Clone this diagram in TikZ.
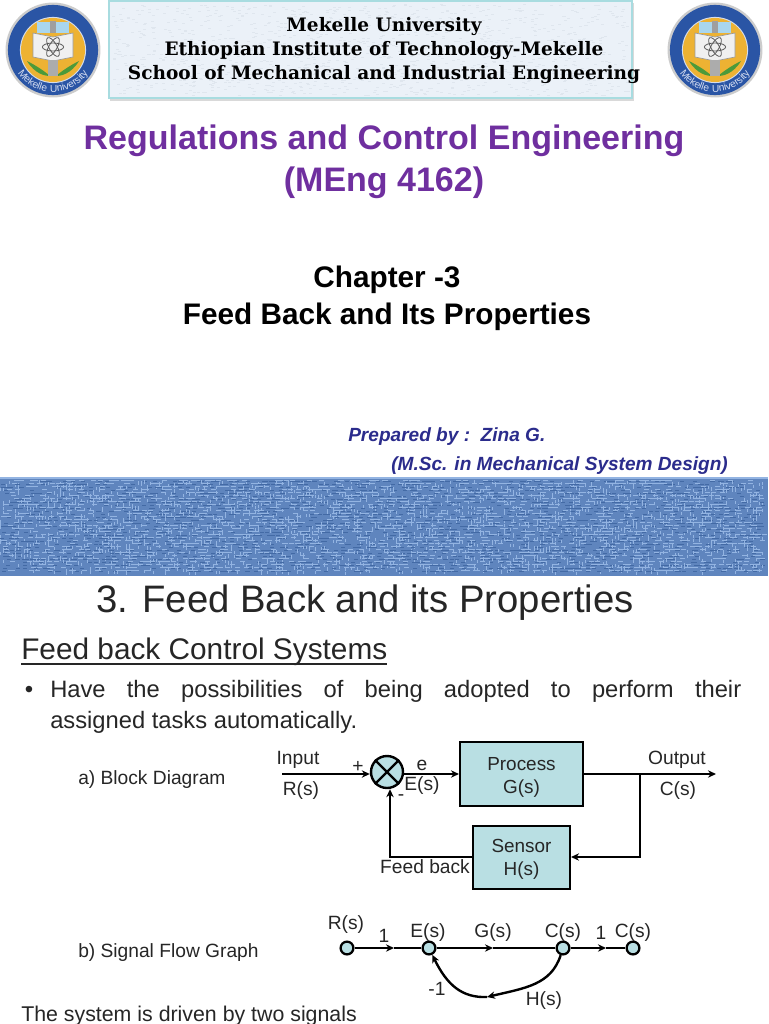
\documentclass[tikz,border=0pt]{standalone}
\usepackage{fontspec}
\setmainfont{Liberation Sans}
\newfontfamily\slabfont{DejaVu Serif}
\newfontfamily\logofont[LetterSpace=9]{Liberation Sans}
\usetikzlibrary{arrows.meta,decorations.text}
\definecolor{boxfill}{HTML}{B9DFE3}
\definecolor{inktext}{HTML}{262626}
\definecolor{titlepurple}{HTML}{6F2F9F}
\definecolor{prepblue}{HTML}{2B2C8C}
\definecolor{bandblue}{HTML}{5F85BE}
\definecolor{bandlight}{HTML}{93B4E2}
\definecolor{banddark}{HTML}{436AA5}
\definecolor{headerfill}{HTML}{EBF1F8}
\definecolor{headermark}{HTML}{DFE6EE}
\definecolor{headerline}{HTML}{A8DCE0}
\definecolor{logoblue}{HTML}{2A55A5}
\definecolor{logogold}{HTML}{EDB233}
\definecolor{logosky}{HTML}{A9D6EE}
\definecolor{logogreen}{HTML}{4C9A3A}
\definecolor{logotext}{HTML}{D5DDF0}
\tikzset{
  x=0.75pt,y=-0.75pt,
  lbl/.style={inner sep=0pt,text=inktext,font=\fontsize{14.4}{17}\selectfont,align=center},
  blockbox/.style={draw=black,line width=1.8pt,fill=boxfill,inner sep=0pt,align=center,text=inktext,font=\fontsize{14.2}{17.3}\selectfont},
  wire/.style={draw=black,line width=1.8pt},
  wirearrow/.style={wire,-{Stealth[length=6pt,width=5.5pt]}},
  thinarrow/.style={wirearrow,line width=1.3pt},
  flownode/.style={circle,draw=black,line width=1.7pt,fill=boxfill,minimum size=9.6pt,inner sep=0pt},
  headline/.style={inner sep=0pt,font=\slabfont\bfseries\fontsize{13.9}{18}\selectfont,text=black},
  purpletitle/.style={inner sep=0pt,font=\bfseries\fontsize{25.5}{30}\selectfont,text=titlepurple},
  chaptertitle/.style={inner sep=0pt,font=\bfseries\fontsize{22.3}{27}\selectfont,text=black},
  prep/.style={inner sep=0pt,font=\bfseries\itshape\fontsize{14.3}{17}\selectfont,text=prepblue},
}
\newcommand{\drawlogo}[2]{%
  \begin{scope}[shift={(#1,#2)}]
    \fill[gray!40] (0,0) circle [radius=35.6pt];
    \fill[logoblue] (0,0) circle [radius=33.8pt];
    \fill[white!80!logoblue] (0,0) circle [radius=24.8pt];
    \fill[logogold] (0,0) circle [radius=24pt];
    \fill[logosky] (-16,-28) rectangle (16,-17);
    \fill[gray!75] (-3,-29) rectangle (3,-17);
    \fill[white!88!gray,draw=gray!80,line width=.5pt] (-20,-17) -- (0,-13) -- (20,-17) -- (20,7) -- (0,11) -- (-20,7) -- cycle;
    \draw[gray!70!black,line width=.6pt] (0,-3) ellipse [x radius=8pt, y radius=3pt];
    \draw[gray!70!black,line width=.6pt,rotate around={60:(0,-3)}] (0,-3) ellipse [x radius=8pt, y radius=3pt];
    \draw[gray!70!black,line width=.6pt,rotate around={120:(0,-3)}] (0,-3) ellipse [x radius=8pt, y radius=3pt];
    \fill[logogreen] (-26,11) .. controls (-18,24) and (-8,26) .. (-3,26) .. controls (-10,20) and (-18,15) .. (-26,11) -- cycle;
    \fill[logogreen] (26,11) .. controls (18,24) and (8,26) .. (3,26) .. controls (10,20) and (18,15) .. (26,11) -- cycle;
    \fill[gray!65] (-5,10) rectangle (5,26);
    \path[postaction={decorate,decoration={text along path,text align=center,
      text={|\logofont\fontsize{7.6}{10}\selectfont\color{logotext}|Mekelle University}}}]
      (-40.6,10.9) arc [start angle=195, end angle=345, radius=31.5pt];
  \end{scope}}
\begin{document}
\begin{tikzpicture}
\useasboundingbox (0,0) rectangle (768,1024);
\fill[white] (0,0) rectangle (768,1024);
% header plate
\pgfmathsetseed{7}
\fill[gray!30] (110,3) rectangle (634,101);
\filldraw[fill=headerfill,draw=headerline,line width=1pt] (109,1) rectangle (632,98);
\foreach \i in {1,...,1200}{
  \pgfmathsetmacro{\xa}{112+rnd*516}
  \pgfmathsetmacro{\ya}{4+rnd*91}
  \fill[headermark] (\xa,\ya) rectangle ++(3,1);
}
\drawlogo{53}{50}
\drawlogo{715}{50}
\node[headline] (h1) at (384,27) {Mekelle University};
\node[headline] (h2) at (384,51) {Ethiopian Institute of Technology-Mekelle};
\node[headline] (h3) at (384,75) {School of Mechanical and Industrial Engineering};
% titles
\node[purpletitle] (t1) at (384,141) {Regulations and Control Engineering};
\node[purpletitle] (t2) at (384,183) {(MEng 4162)};
\node[chaptertitle] (c1) at (387,280) {Chapter -3};
\node[chaptertitle] (c2) at (387,317) {Feed Back and Its Properties};
\node[prep,anchor=west] (p1) at (348,437) {Prepared by :\ \ Zina G.};
\node[prep,anchor=west] (p2) at (391,466) {(M.Sc. in Mechanical System Design)};
% textured band
\fill[bandblue] (0,478) rectangle (768,576);
\fill[bandlight] (0,477) rectangle (768,479);
\foreach \i in {1,...,2200}{
  \pgfmathsetmacro{\xa}{rnd*762}
  \pgfmathsetmacro{\ya}{480+3*int(rnd*31)}
  \fill[bandlight] (\xa,\ya) rectangle ++(5,1.2);
  \pgfmathsetmacro{\xb}{3*int(rnd*255)}
  \pgfmathsetmacro{\yb}{480+rnd*92}
  \fill[bandlight] (\xb,\yb) rectangle ++(1.2,3);
  \pgfmathsetmacro{\xc}{rnd*762}
  \pgfmathsetmacro{\yc}{481+3*int(rnd*31)}
  \fill[banddark] (\xc,\yc) rectangle ++(4,1.2);
}
% slide heading
\node[inner sep=0pt,font=\fontsize{28.7}{34}\selectfont,text=inktext] (s1) at (365,603) {3. Feed Back and its Properties};
\node[inner sep=0pt,font=\fontsize{22.35}{27}\selectfont,text=inktext,anchor=west] (s2) at (21,652) {Feed back Control Systems};
\coordinate (ula) at (21,664);
\coordinate (ulb) at (387,664);
\draw[inktext,line width=.9pt] (ula) -- (ulb);
\node[inner sep=0pt,font=\fontsize{18}{22}\selectfont,text=inktext] (b0) at (29,692) {•};
\node[inner sep=0pt,font=\fontsize{17.8}{23.5}\selectfont,text=inktext,anchor=north west,text width=518.25pt,align=justify] (b1) at (50,680)
  {Have the possibilities of being adopted to perform their\linebreak assigned tasks automatically.};
\node[lbl,anchor=west] (la) at (78,780) {a) Block Diagram};
\node[lbl,anchor=west] (lb) at (78,953) {b) Signal Flow Graph};
\node[inner sep=0pt,font=\fontsize{16}{19}\selectfont,text=inktext,anchor=west] (last) at (21,1016) {The system is driven by two signals};
% block diagram
\node[circle,draw=black,line width=1.8pt,fill=boxfill,minimum size=24pt,inner sep=0pt] (sum) at (387,772) {};
\draw[black,line width=1.8pt] (sum.north west) -- (sum.south east) (sum.north east) -- (sum.south west);
\node[blockbox,minimum width=92pt,minimum height=48pt] (proc) at (521.5,774) {\rule{0pt}{15pt}Process\\G(s)};
\node[blockbox,minimum width=72.5pt,minimum height=47.5pt] (sens) at (521.5,857.5) {\rule{0pt}{13pt}Sensor\\H(s)};
\coordinate (inp) at (282,774);
\coordinate (outp) at (716,774);
\coordinate (tap) at (640,774);
\coordinate (tapb) at (640,857);
\coordinate (fbc) at (390,857);
\draw[wirearrow] (inp) -- (sum.west |- inp);
\draw[wirearrow] (sum.east |- proc.west) -- (proc.west);
\draw[wirearrow] (proc.east) -- (outp);
\draw[wirearrow] (tap) -- (tapb) -- (sens.east |- tapb);
\draw[wirearrow] (sens.west |- fbc) -- (fbc) -- (fbc |- sum.south);
\node[lbl] (i1) at (298,760) {Input};
\node[lbl] (i2) at (301,791) {R(s)};
\node[lbl] (pl) at (358,767) {+};
\node[lbl] (mi) at (401,798) {-};
\node[lbl] (e1) at (422,765) {e};
\node[lbl] (e2) at (422,786) {E(s)};
\node[lbl] (o1) at (677,760) {Output};
\node[lbl] (o2) at (678,791) {C(s)};
\node[lbl] (fb) at (425,867) {Feed back};
% signal flow graph
\node[flownode] (nr) at (347,948) {};
\node[flownode] (ne) at (429,948) {};
\node[flownode] (nc) at (563,948) {};
\node[flownode] (no) at (633,948) {};
\coordinate (m1) at (394,948);
\coordinate (m2) at (493,948);
\coordinate (m3) at (606,948);
\coordinate (m4) at (487,997);
\draw[thinarrow] (nr) -- (m1);
\draw[wire] (m1) -- (ne);
\draw[thinarrow] (ne) -- (m2);
\draw[wire] (m2) -- (nc);
\draw[thinarrow] (nc) -- (m3);
\draw[wire] (m3) -- (no);
\draw[wirearrow] (nc) .. controls (551,985) and (525,988) .. (m4);
\draw[wirearrow] (m4) .. controls (462,998) and (447,985) .. (ne);
\node[lbl] (g1) at (346,925) {R(s)};
\node[lbl] (g2) at (384,936) {1};
\node[lbl] (g3) at (428,933) {E(s)};
\node[lbl] (g4) at (493,933) {G(s)};
\node[lbl] (g5) at (563,933) {C(s)};
\node[lbl] (g6) at (601,933) {1};
\node[lbl] (g7) at (633,933) {C(s)};
\node[lbl] (g8) at (437,989) {-1};
\node[lbl] (g9) at (544,1001) {H(s)};
\end{tikzpicture}
\end{document}
